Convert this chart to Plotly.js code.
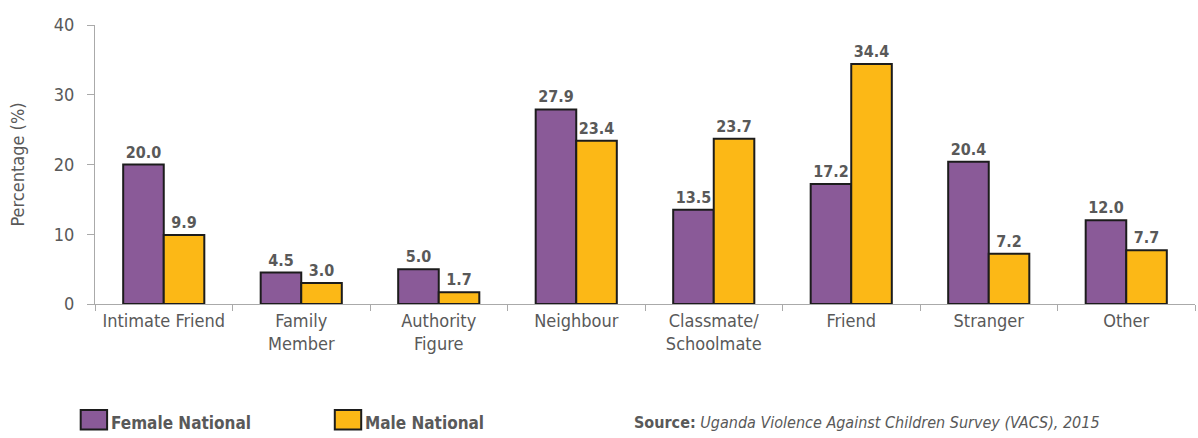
<!DOCTYPE html>
<html><head><meta charset="utf-8">
<script src="https://cdn.plot.ly/plotly-3.0.1.min.js"></script>
<style>html,body{margin:0;padding:0;background:#fff}#chart{width:1198px;height:438px}</style>
</head><body><div id="chart"></div>
<script>
const categories = ["Intimate Friend","Family<br>Member","Authority<br>Figure","Neighbour","Classmate/<br>Schoolmate","Friend","Stranger","Other"];
const femaleNational = [20.0, 4.5, 5.0, 27.9, 13.5, 17.2, 20.4, 12.0];
const maleNational = [9.9, 3.0, 1.7, 23.4, 23.7, 34.4, 7.2, 7.7];
const yTicks = [0, 10, 20, 30, 40];
const seriesNames = ["Female National", "Male National"];
const colors = ["#8a5a98", "#fcb816"];

const FONT = "'Liberation Sans Narrow', 'DejaVu Sans Condensed', 'Arial Narrow', sans-serif";
const GREY = "#595959";

function bar(vals, name, color){
  return {
    type: "bar", x: categories, y: vals, name: name,
    marker: {color: color, line: {color: "#1c1c1c", width: 2}},
    text: vals.map(v => v.toFixed(1)), textposition: "outside",
    textfont: {family: FONT, size: 16, color: GREY, weight: "bold"},
    cliponaxis: false, hoverinfo: "x+y", showlegend: false
  };
}

const data = [bar(femaleNational, seriesNames[0], colors[0]), bar(maleNational, seriesNames[1], colors[1])];

const layout = {
  width: 1198, height: 438,
  margin: {l: 95, r: 3, t: 25, b: 134},
  paper_bgcolor: "#fff", plot_bgcolor: "#fff",
  barmode: "group", bargap: 0.41, bargroupgap: 0,
  font: {family: FONT, color: GREY, size: 16},
  xaxis: {
    type: "category", showline: true, linecolor: "#aaa", linewidth: 1,
    ticks: "outside", tickson: "boundaries", ticklen: 6, tickcolor: "#aaa",
    tickfont: {family: FONT, size: 18, color: GREY}, showgrid: false, zeroline: false
  },
  yaxis: {
    range: [0, 40], tickvals: yTicks, showline: true, linecolor: "#aaa", linewidth: 1,
    ticks: "outside", ticklen: 7, tickcolor: "#aaa", showgrid: false, zeroline: false,
    tickfont: {family: FONT, size: 18, color: GREY}, ticklabelstandoff: 9,
    title: {text: "Percentage (%)", font: {family: FONT, size: 18, color: GREY}, standoff: 24}
  },
  shapes: [
    {type: "rect", xref: "paper", yref: "paper", x0: -0.013, x1: 0.011, y0: -0.45, y1: -0.38,
     fillcolor: colors[0], line: {color: "#1c1c1c", width: 2}},
    {type: "rect", xref: "paper", yref: "paper", x0: 0.218, x1: 0.242, y0: -0.45, y1: -0.38,
     fillcolor: colors[1], line: {color: "#1c1c1c", width: 2}}
  ],
  annotations: [
    {xref: "paper", yref: "paper", x: 0.013, y: -0.425, xanchor: "left", yanchor: "middle", showarrow: false,
     text: "<b>" + seriesNames[0] + "</b>", font: {family: FONT, size: 17, color: GREY}},
    {xref: "paper", yref: "paper", x: 0.244, y: -0.425, xanchor: "left", yanchor: "middle", showarrow: false,
     text: "<b>" + seriesNames[1] + "</b>", font: {family: FONT, size: 17, color: GREY}},
    {xref: "paper", yref: "paper", x: 0.9155, y: -0.425, xanchor: "right", yanchor: "middle", showarrow: false,
     text: "<b>Source:</b> <i>Uganda Violence Against Children Survey (VACS), 2015</i>",
     font: {family: FONT, size: 16, color: GREY}}
  ]
};

Plotly.newPlot("chart", data, layout, {displayModeBar: false, staticPlot: true});
</script></body></html>
